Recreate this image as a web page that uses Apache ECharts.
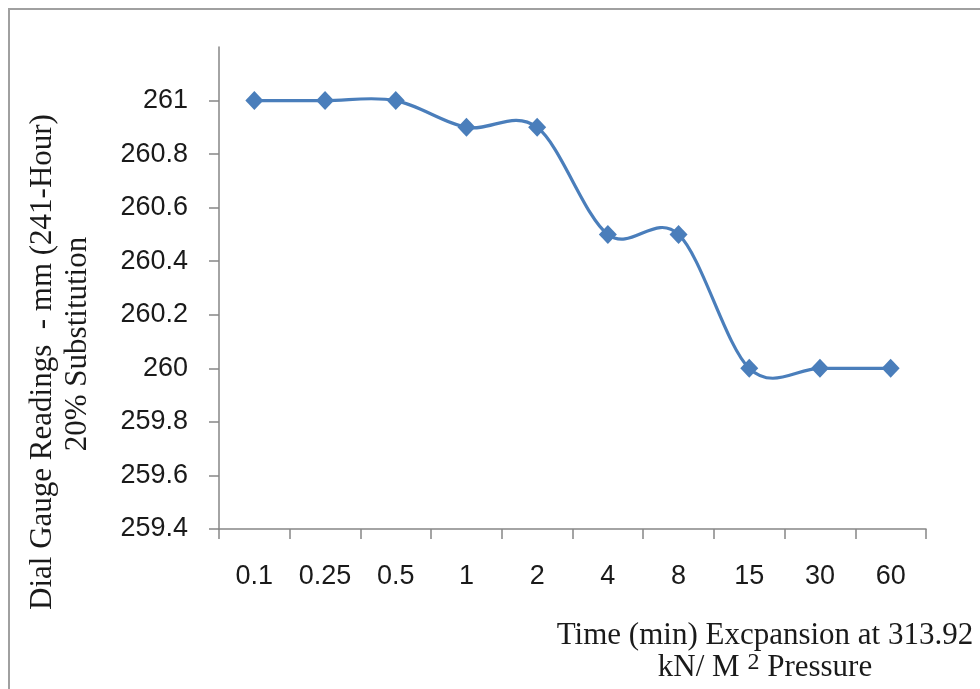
<!DOCTYPE html>
<html>
<head>
<meta charset="utf-8">
<script src="https://cdn.jsdelivr.net/npm/echarts@6/dist/echarts.min.js"></script>
<style>
  html, body { margin: 0; padding: 0; background: #fff; }
  #chart { width: 980px; height: 689px; }
</style>
</head>
<body>
<div id="chart"></div>
<script>
// Time steps (min) and dial gauge readings (mm)
const timeLabels = ['0.1', '0.25', '0.5', '1', '2', '4', '8', '15', '30', '60'];
const readings = [261, 261, 261, 260.9, 260.9, 260.5, 260.5, 260, 260, 260];
const yTicks = [259.4, 259.6, 259.8, 260, 260.2, 260.4, 260.6, 260.8, 261];

const axisGray = '#868686';
const lineBlue = '#4a7ebb';

// Smoothed segment between point i and i+1 (cardinal spline, tension 1/6),
// positioned through the chart's own coordinate system.
function renderSegment(params, api) {
  const i = params.dataIndex;
  const n = readings.length;
  if (i >= n - 1) return null;
  const pt = k => {
    const j = Math.max(0, Math.min(n - 1, k));
    return api.coord([j, readings[j]]);
  };
  const p0 = pt(i - 1), p1 = pt(i), p2 = pt(i + 1), p3 = pt(i + 2);
  return {
    type: 'bezierCurve',
    shape: {
      x1: p1[0], y1: p1[1],
      x2: p2[0], y2: p2[1],
      cpx1: p1[0] + (p2[0] - p0[0]) / 6, cpy1: p1[1] + (p2[1] - p0[1]) / 6,
      cpx2: p2[0] - (p3[0] - p1[0]) / 6, cpy2: p2[1] - (p3[1] - p1[1]) / 6
    },
    style: { stroke: lineBlue, lineWidth: 3.2, fill: 'none', lineCap: 'round' }
  };
}

const chart = echarts.init(document.getElementById('chart'));
chart.setOption({
  backgroundColor: '#fff',
  animation: false,
  grid: { left: 219, top: 47, right: 54, bottom: 160 },
  xAxis: {
    type: 'category',
    data: timeLabels,
    boundaryGap: true,
    axisLine: { lineStyle: { color: axisGray, width: 1.5 } },
    axisTick: { show: true, length: 10, lineStyle: { color: axisGray, width: 1.5 } },
    axisLabel: { color: '#1a1a1a', fontFamily: 'Liberation Sans', fontSize: 27, margin: 34 },
    splitLine: { show: false }
  },
  yAxis: {
    type: 'value',
    min: 259.4,
    max: 261.2,
    axisLine: { show: true, lineStyle: { color: axisGray, width: 1.5 } },
    axisTick: { show: true, length: 10, customValues: yTicks, lineStyle: { color: axisGray, width: 1.5 } },
    axisLabel: {
      customValues: yTicks,
      color: '#1a1a1a', fontFamily: 'Liberation Sans', fontSize: 27, margin: 31,
      formatter: v => String(+(+v).toFixed(1))
    },
    splitLine: { show: false }
  },
  series: [
    {
      type: 'custom',
      data: readings,
      renderItem: renderSegment,
      clip: false,
      z: 2
    },
    {
      type: 'scatter',
      data: readings,
      symbol: 'diamond',
      symbolSize: [18, 19],
      itemStyle: { color: lineBlue, opacity: 1 },
      z: 3
    }
  ],
  graphic: [
    {
      type: 'rect', silent: true, z: -1,
      shape: { x: 9, y: 9, width: 1100, height: 1000 },
      style: { fill: 'none', stroke: '#a0a0a0', lineWidth: 2 }
    },
    {
      type: 'text', x: 43, y: 362, rotation: Math.PI / 2,
      style: {
        text: 'Dial Gauge Readings  - mm (241-Hour)',
        font: '31px "Liberation Serif"', fill: '#1a1a1a',
        textAlign: 'center', textVerticalAlign: 'middle'
      }
    },
    {
      type: 'text', x: 78, y: 344, rotation: Math.PI / 2,
      style: {
        text: '20% Substitution',
        font: '31px "Liberation Serif"', fill: '#1a1a1a',
        textAlign: 'center', textVerticalAlign: 'middle'
      }
    },
    {
      type: 'text', x: 765, y: 636,
      style: {
        text: 'Time (min) Excpansion at 313.92',
        font: '31px "Liberation Serif"', fill: '#1a1a1a',
        textAlign: 'center', textVerticalAlign: 'middle'
      }
    },
    {
      type: 'text', x: 765, y: 668,
      style: {
        text: 'kN/ M {sup|2} Pressure',
        font: '31px "Liberation Serif"', fill: '#1a1a1a',
        textAlign: 'center', textVerticalAlign: 'middle',
        rich: {
          sup: { font: '24px "Liberation Serif"', fill: '#1a1a1a', verticalAlign: 'top', padding: [0, 0, 10, 0] }
        }
      }
    }
  ]
});
</script>
</body>
</html>
